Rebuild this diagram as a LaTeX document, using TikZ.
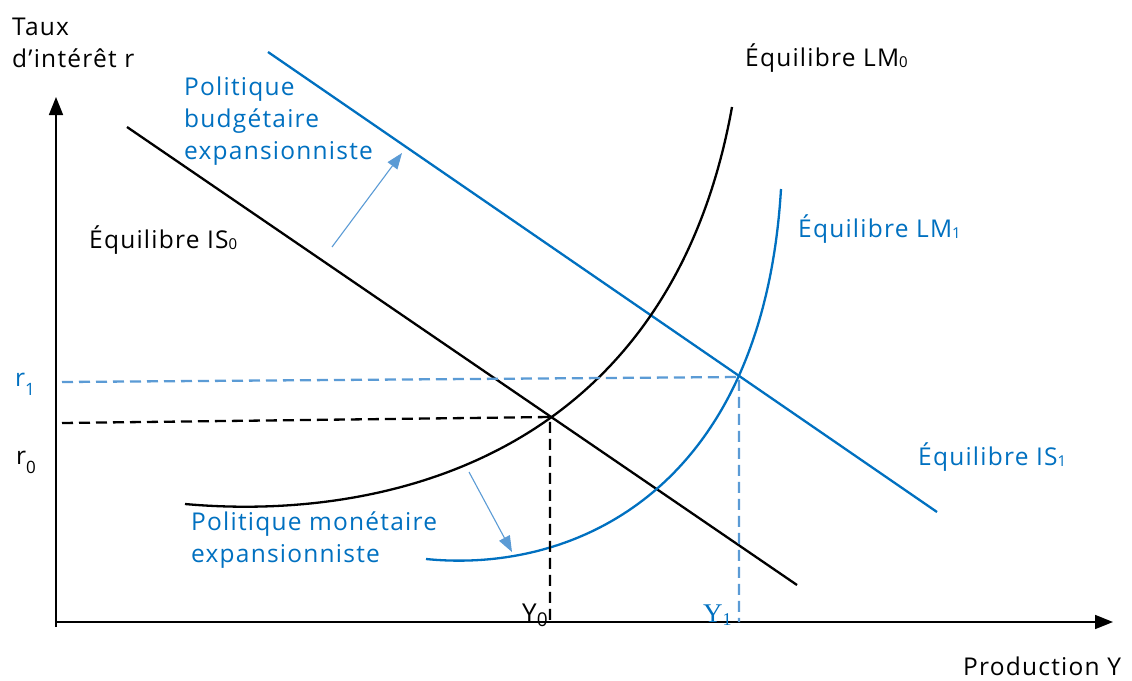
\documentclass[tikz,border=0pt]{standalone}
\usepackage{fontspec}
\setmainfont{Open Sans}[LetterSpace=5]
\newfontfamily\serifY{Liberation Serif}
\usetikzlibrary{arrows.meta}
\definecolor{bl}{HTML}{0070C0}
\definecolor{lb}{HTML}{5B9BD5}
\newcommand\lowsub[1]{\raisebox{-1.5pt}{\fontsize{15}{15}\selectfont #1}}
\begin{document}
\begin{tikzpicture}[x=1pt,y=-1pt,
 lab/.style={inner sep=0pt, anchor=base west, align=left, font=\fontsize{24.5}{32}\selectfont},
 ax/.style={line width=1.7pt, -{Triangle[length=18pt,width=14pt]}},
 crv/.style={line width=2.3pt},
 dsh/.style={line width=2.3pt, dash pattern=on 11pt off 6pt},
 shiftarrow/.style={line width=1.1pt, lb, -{Triangle[length=16pt,width=12pt]}}
]
\useasboundingbox (0,0) rectangle (1132,680);
% axes
\coordinate (O) at (56,627);
\coordinate (Ytop) at (56,97);
\coordinate (Xl) at (56,622);
\coordinate (Xr) at (1113,622);
\draw[ax] (O) -- (Ytop);
\draw[ax] (Xl) -- (Xr);
% IS lines
\coordinate (IS0a) at (127,127);
\coordinate (IS0b) at (797,585);
\coordinate (IS1a) at (268,52);
\coordinate (IS1b) at (937,512);
\draw[crv] (IS0a) -- (IS0b);
\draw[crv,bl] (IS1a) -- (IS1b);
% LM curves
\coordinate (LM0a) at (185,504);
\coordinate (LM0b) at (732,107);
\coordinate (LM1a) at (426,559);
\coordinate (LM1b) at (781,189);
\draw[crv] (LM0a) .. controls (385,522) and (669,457) .. (LM0b);
\draw[crv,bl] (LM1a) .. controls (576,574) and (763,489) .. (LM1b);
% equilibria
\coordinate (E0) at (550,417);
\coordinate (E1) at (739,377);
\coordinate (r0l) at (62,423);
\coordinate (r1l) at (62,382);
\coordinate (Y0b) at (550,624);
\coordinate (Y1b) at (739,622);
\draw[dsh] (r0l) -- (E0) -- (Y0b);
\draw[dsh,lb] (r1l) -- (E1) -- (Y1b);
% shift arrows
\coordinate (a1s) at (332,247);
\coordinate (a1e) at (402,153);
\coordinate (a2s) at (469,472);
\coordinate (a2e) at (512,552);
\draw[shiftarrow] (a1s) -- (a1e);
\draw[shiftarrow] (a2s) -- (a2e);
% labels
\node[lab] (taux) at (12,67) {Taux\\d’intérêt r};
\node[lab] (prod) at (963,675) {Production Y};
\node[lab] (lm0) at (745,66) {Équilibre LM\lowsub{0}};
\node[lab] (is0) at (89,248) {Équilibre IS\lowsub{0}};
\node[lab,bl] (lm1) at (798,237) {Équilibre LM\lowsub{1}};
\node[lab,bl] (is1) at (918,465) {Équilibre IS\lowsub{1}};
\node[lab,bl] (pb) at (184,159) {Politique\\budgétaire\\expansionniste};
\node[lab,bl] (pm) at (191,562) {Politique monétaire\\expansionniste};
\node[lab,bl] (r1) at (15,386) {r\raisebox{-9pt}{\fontsize{17}{17}\selectfont 1}};
\node[lab] (r0) at (16,464) {r\raisebox{-9pt}{\fontsize{17}{17}\selectfont 0}};
\node[lab] (y0) at (522,622) {\fontsize{26}{26}\selectfont Y\raisebox{-4pt}{\fontsize{19}{19}\selectfont 0}};
\node[lab,bl] (y1) at (703,622) {\serifY\fontsize{27}{27}\selectfont Y\raisebox{-3pt}{\fontsize{18}{18}\selectfont 1}};
\end{tikzpicture}
\end{document}
